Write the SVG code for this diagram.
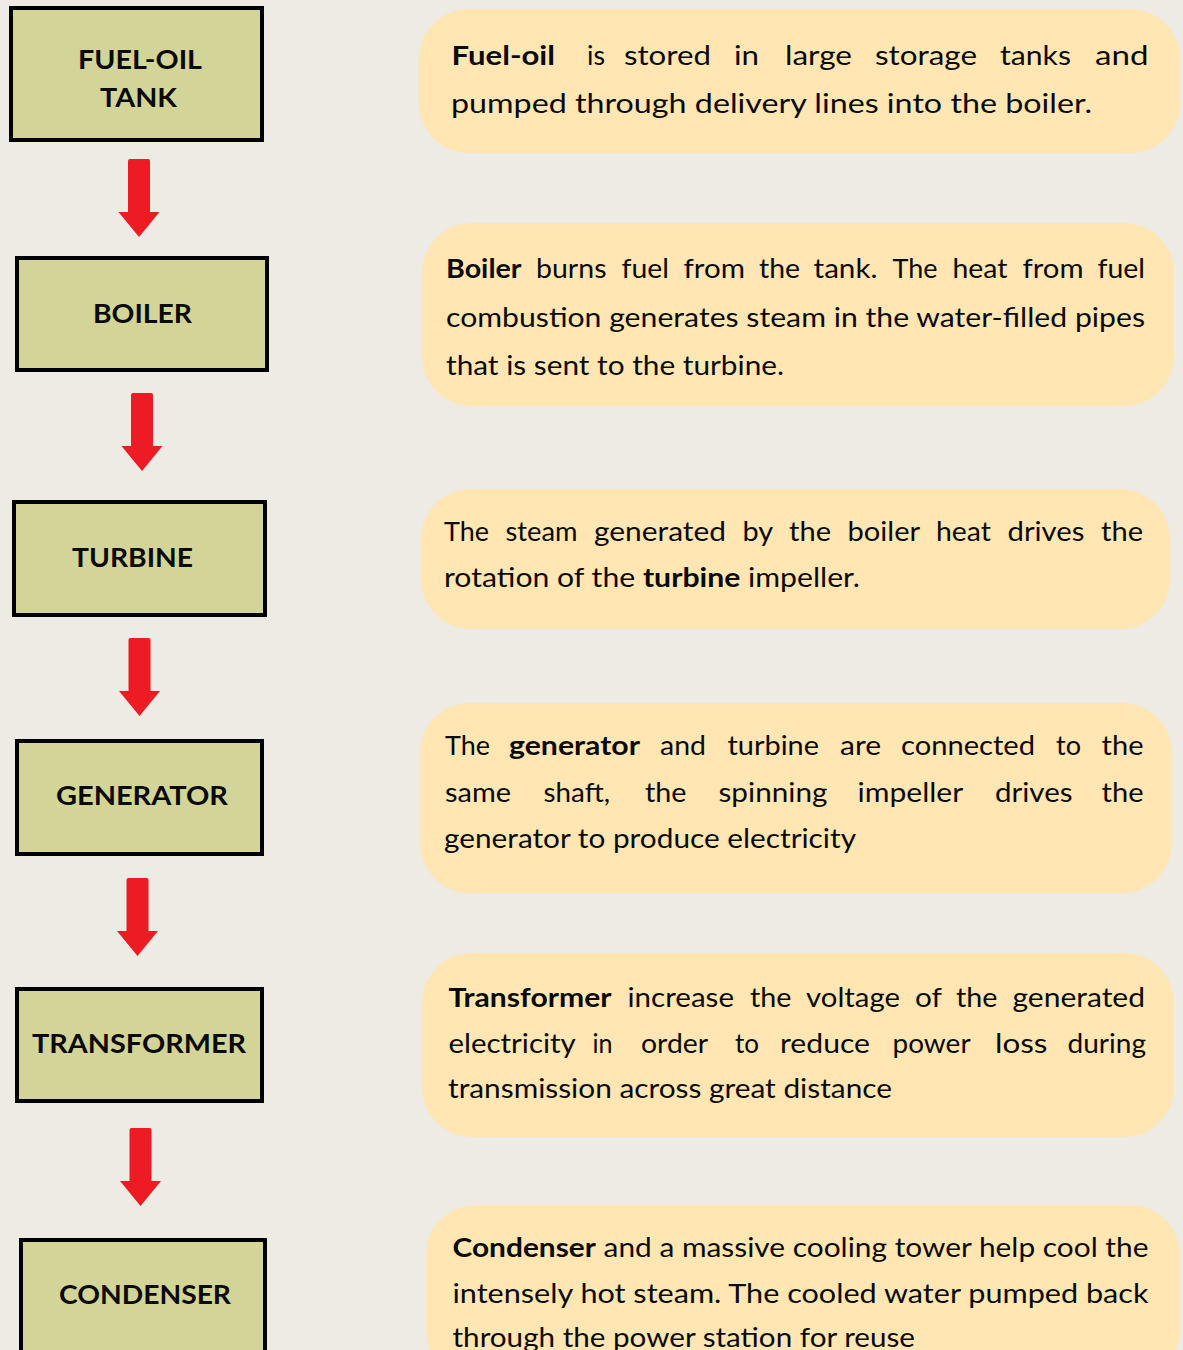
<svg xmlns="http://www.w3.org/2000/svg" xmlns:xlink="http://www.w3.org/1999/xlink" width="1183" height="1350" viewBox="0 0 1183 1350">
<style>
.node rect{fill:#D3D497;stroke:#000;stroke-width:4}
.lbl{font-family:Lato,"Open Sans","Liberation Sans",sans-serif;font-weight:bold;font-size:27px;fill:#0a0a0a;text-anchor:start}
.box{fill:#FFE6B2}
.t{font-family:Lato,"Open Sans","Liberation Sans",sans-serif;font-size:26.5px;fill:#0a0a0a}
.b{font-weight:bold}
.arrow{fill:#ED1C24}
</style>
<defs>
<path id="arrow" d="M-11,2 Q-11,0 -9,0 L9,0 Q11,0 11,2 L11,53 L20.5,53 L0,78 L-20.5,53 L-11,53 Z"/>
</defs>
<rect width="1183" height="1350" fill="#EEEAE4"/>

<g id="node-fuel-oil-tank" class="node">
<rect x="11" y="8" width="251" height="132"/>
<text class="lbl" x="78" y="69" textLength="124" lengthAdjust="spacingAndGlyphs">FUEL-OIL</text>
<text class="lbl" x="100" y="107" textLength="77" lengthAdjust="spacingAndGlyphs">TANK</text>
</g>
<g id="node-boiler" class="node">
<rect x="17" y="258" width="250" height="112"/>
<text class="lbl" x="93" y="323" textLength="99" lengthAdjust="spacingAndGlyphs">BOILER</text>
</g>
<g id="node-turbine" class="node">
<rect x="14" y="502" width="251" height="113"/>
<text class="lbl" x="72" y="567" textLength="121" lengthAdjust="spacingAndGlyphs">TURBINE</text>
</g>
<g id="node-generator" class="node">
<rect x="17" y="741" width="245" height="113"/>
<text class="lbl" x="56" y="805" textLength="172" lengthAdjust="spacingAndGlyphs">GENERATOR</text>
</g>
<g id="node-transformer" class="node">
<rect x="17" y="989" width="245" height="112"/>
<text class="lbl" x="32" y="1053" textLength="214" lengthAdjust="spacingAndGlyphs">TRANSFORMER</text>
</g>
<g id="node-condenser" class="node">
<rect x="21" y="1240" width="244" height="130"/>
<text class="lbl" x="59" y="1304" textLength="172" lengthAdjust="spacingAndGlyphs">CONDENSER</text>
</g>

<g id="connectors" class="arrow">
<use xlink:href="#arrow" x="139" y="159"/>
<use xlink:href="#arrow" x="142" y="393"/>
<use xlink:href="#arrow" x="139.5" y="638"/>
<use xlink:href="#arrow" x="137.5" y="878"/>
<use xlink:href="#arrow" x="140.5" y="1128"/>
</g>

<g id="desc-fuel-oil">
<rect class="box" x="419" y="9" width="761" height="144" rx="50" ry="50"/>
<text class="t" y="65"><tspan class="b" x="451.5" textLength="103.5" lengthAdjust="spacingAndGlyphs">Fuel-oil</tspan> <tspan x="587" textLength="18" lengthAdjust="spacingAndGlyphs">is</tspan> <tspan x="624" textLength="87" lengthAdjust="spacingAndGlyphs">stored</tspan> <tspan x="734" textLength="25" lengthAdjust="spacingAndGlyphs">in</tspan> <tspan x="785" textLength="67" lengthAdjust="spacingAndGlyphs">large</tspan> <tspan x="875" textLength="102" lengthAdjust="spacingAndGlyphs">storage</tspan> <tspan x="1000" textLength="71" lengthAdjust="spacingAndGlyphs">tanks</tspan> <tspan x="1095" textLength="53.5" lengthAdjust="spacingAndGlyphs">and</tspan></text>
<text class="t" x="451" y="113" textLength="641" lengthAdjust="spacingAndGlyphs">pumped through delivery lines into the boiler.</text>
</g>

<g id="desc-boiler">
<rect class="box" x="422" y="223" width="752" height="183" rx="50" ry="50"/>
<text class="t" y="278"><tspan class="b" x="446" textLength="75.5" lengthAdjust="spacingAndGlyphs">Boiler</tspan> <tspan x="536" textLength="70.5" lengthAdjust="spacingAndGlyphs">burns</tspan> <tspan x="621.5" textLength="47.5" lengthAdjust="spacingAndGlyphs">fuel</tspan> <tspan x="683.5" textLength="61.5" lengthAdjust="spacingAndGlyphs">from</tspan> <tspan x="759" textLength="41" lengthAdjust="spacingAndGlyphs">the</tspan> <tspan x="813.5" textLength="64" lengthAdjust="spacingAndGlyphs">tank.</tspan> <tspan x="892.5" textLength="45" lengthAdjust="spacingAndGlyphs">The</tspan> <tspan x="952.5" textLength="55" lengthAdjust="spacingAndGlyphs">heat</tspan> <tspan x="1022.5" textLength="61" lengthAdjust="spacingAndGlyphs">from</tspan> <tspan x="1097.5" textLength="47.5" lengthAdjust="spacingAndGlyphs">fuel</tspan></text>
<text class="t" x="446" y="327" textLength="699" lengthAdjust="spacingAndGlyphs">combustion generates steam in the water-filled pipes</text>
<text class="t" x="446" y="375" textLength="338" lengthAdjust="spacingAndGlyphs">that is sent to the turbine.</text>
</g>

<g id="desc-turbine">
<rect class="box" x="421" y="489" width="749" height="140" rx="50" ry="50"/>
<text class="t" y="541"><tspan x="444" textLength="45" lengthAdjust="spacingAndGlyphs">The</tspan> <tspan x="505.5" textLength="72" lengthAdjust="spacingAndGlyphs">steam</tspan> <tspan x="594" textLength="132" lengthAdjust="spacingAndGlyphs">generated</tspan> <tspan x="742.5" textLength="30" lengthAdjust="spacingAndGlyphs">by</tspan> <tspan x="789" textLength="42" lengthAdjust="spacingAndGlyphs">the</tspan> <tspan x="847.5" textLength="72" lengthAdjust="spacingAndGlyphs">boiler</tspan> <tspan x="936" textLength="55" lengthAdjust="spacingAndGlyphs">heat</tspan> <tspan x="1007.5" textLength="77" lengthAdjust="spacingAndGlyphs">drives</tspan> <tspan x="1101" textLength="42" lengthAdjust="spacingAndGlyphs">the</tspan></text>
<text class="t" x="444" y="587" textLength="416" lengthAdjust="spacingAndGlyphs">rotation of the <tspan class="b">turbine</tspan> impeller.</text>
</g>

<g id="desc-generator">
<rect class="box" x="420" y="703" width="752" height="190" rx="50" ry="50"/>
<text class="t" y="755"><tspan x="445" textLength="45" lengthAdjust="spacingAndGlyphs">The</tspan> <tspan class="b" x="509" textLength="131" lengthAdjust="spacingAndGlyphs">generator</tspan> <tspan x="660" textLength="46" lengthAdjust="spacingAndGlyphs">and</tspan> <tspan x="727.5" textLength="91.5" lengthAdjust="spacingAndGlyphs">turbine</tspan> <tspan x="840" textLength="41" lengthAdjust="spacingAndGlyphs">are</tspan> <tspan x="901" textLength="134" lengthAdjust="spacingAndGlyphs">connected</tspan> <tspan x="1056" textLength="25" lengthAdjust="spacingAndGlyphs">to</tspan> <tspan x="1101.5" textLength="42" lengthAdjust="spacingAndGlyphs">the</tspan></text>
<text class="t" y="802"><tspan x="445" textLength="66" lengthAdjust="spacingAndGlyphs">same</tspan> <tspan x="543.5" textLength="66.5" lengthAdjust="spacingAndGlyphs">shaft,</tspan> <tspan x="645" textLength="41.5" lengthAdjust="spacingAndGlyphs">the</tspan> <tspan x="718.5" textLength="109" lengthAdjust="spacingAndGlyphs">spinning</tspan> <tspan x="857.5" textLength="105" lengthAdjust="spacingAndGlyphs">impeller</tspan> <tspan x="995" textLength="77.5" lengthAdjust="spacingAndGlyphs">drives</tspan> <tspan x="1101.5" textLength="42" lengthAdjust="spacingAndGlyphs">the</tspan></text>
<text class="t" x="444" y="848" textLength="412" lengthAdjust="spacingAndGlyphs">generator to produce electricity</text>
</g>

<g id="desc-transformer">
<rect class="box" x="422" y="953" width="752" height="184" rx="50" ry="50"/>
<text class="t" y="1007"><tspan class="b" x="448.5" textLength="163" lengthAdjust="spacingAndGlyphs">Transformer</tspan> <tspan x="627.5" textLength="106.5" lengthAdjust="spacingAndGlyphs">increase</tspan> <tspan x="750" textLength="41.5" lengthAdjust="spacingAndGlyphs">the</tspan> <tspan x="806" textLength="94" lengthAdjust="spacingAndGlyphs">voltage</tspan> <tspan x="915" textLength="26.5" lengthAdjust="spacingAndGlyphs">of</tspan> <tspan x="956" textLength="41.5" lengthAdjust="spacingAndGlyphs">the</tspan> <tspan x="1012.5" textLength="132.5" lengthAdjust="spacingAndGlyphs">generated</tspan></text>
<text class="t" y="1053"><tspan x="448.5" textLength="126.5" lengthAdjust="spacingAndGlyphs">electricity</tspan> <tspan x="592.5" textLength="20" lengthAdjust="spacingAndGlyphs">in</tspan> <tspan x="641" textLength="66.5" lengthAdjust="spacingAndGlyphs">order</tspan> <tspan x="735" textLength="24" lengthAdjust="spacingAndGlyphs">to</tspan> <tspan x="780" textLength="90" lengthAdjust="spacingAndGlyphs">reduce</tspan> <tspan x="892.5" textLength="77.5" lengthAdjust="spacingAndGlyphs">power</tspan> <tspan x="995" textLength="52.5" lengthAdjust="spacingAndGlyphs">loss</tspan> <tspan x="1067.5" textLength="78.5" lengthAdjust="spacingAndGlyphs">during</tspan></text>
<text class="t" x="448" y="1098" textLength="444" lengthAdjust="spacingAndGlyphs">transmission across great distance</text>
</g>

<g id="desc-condenser">
<rect class="box" x="426" y="1205" width="754" height="175" rx="50" ry="50"/>
<text class="t" x="452.5" y="1257" textLength="696" lengthAdjust="spacingAndGlyphs"><tspan class="b">Condenser</tspan> and a massive cooling tower help cool the</text>
<text class="t" x="452.5" y="1303" textLength="696" lengthAdjust="spacingAndGlyphs">intensely hot steam. The cooled water pumped back</text>
<text class="t" x="452.5" y="1347" textLength="462.5" lengthAdjust="spacingAndGlyphs">through the power station for reuse</text>
</g>
</svg>
